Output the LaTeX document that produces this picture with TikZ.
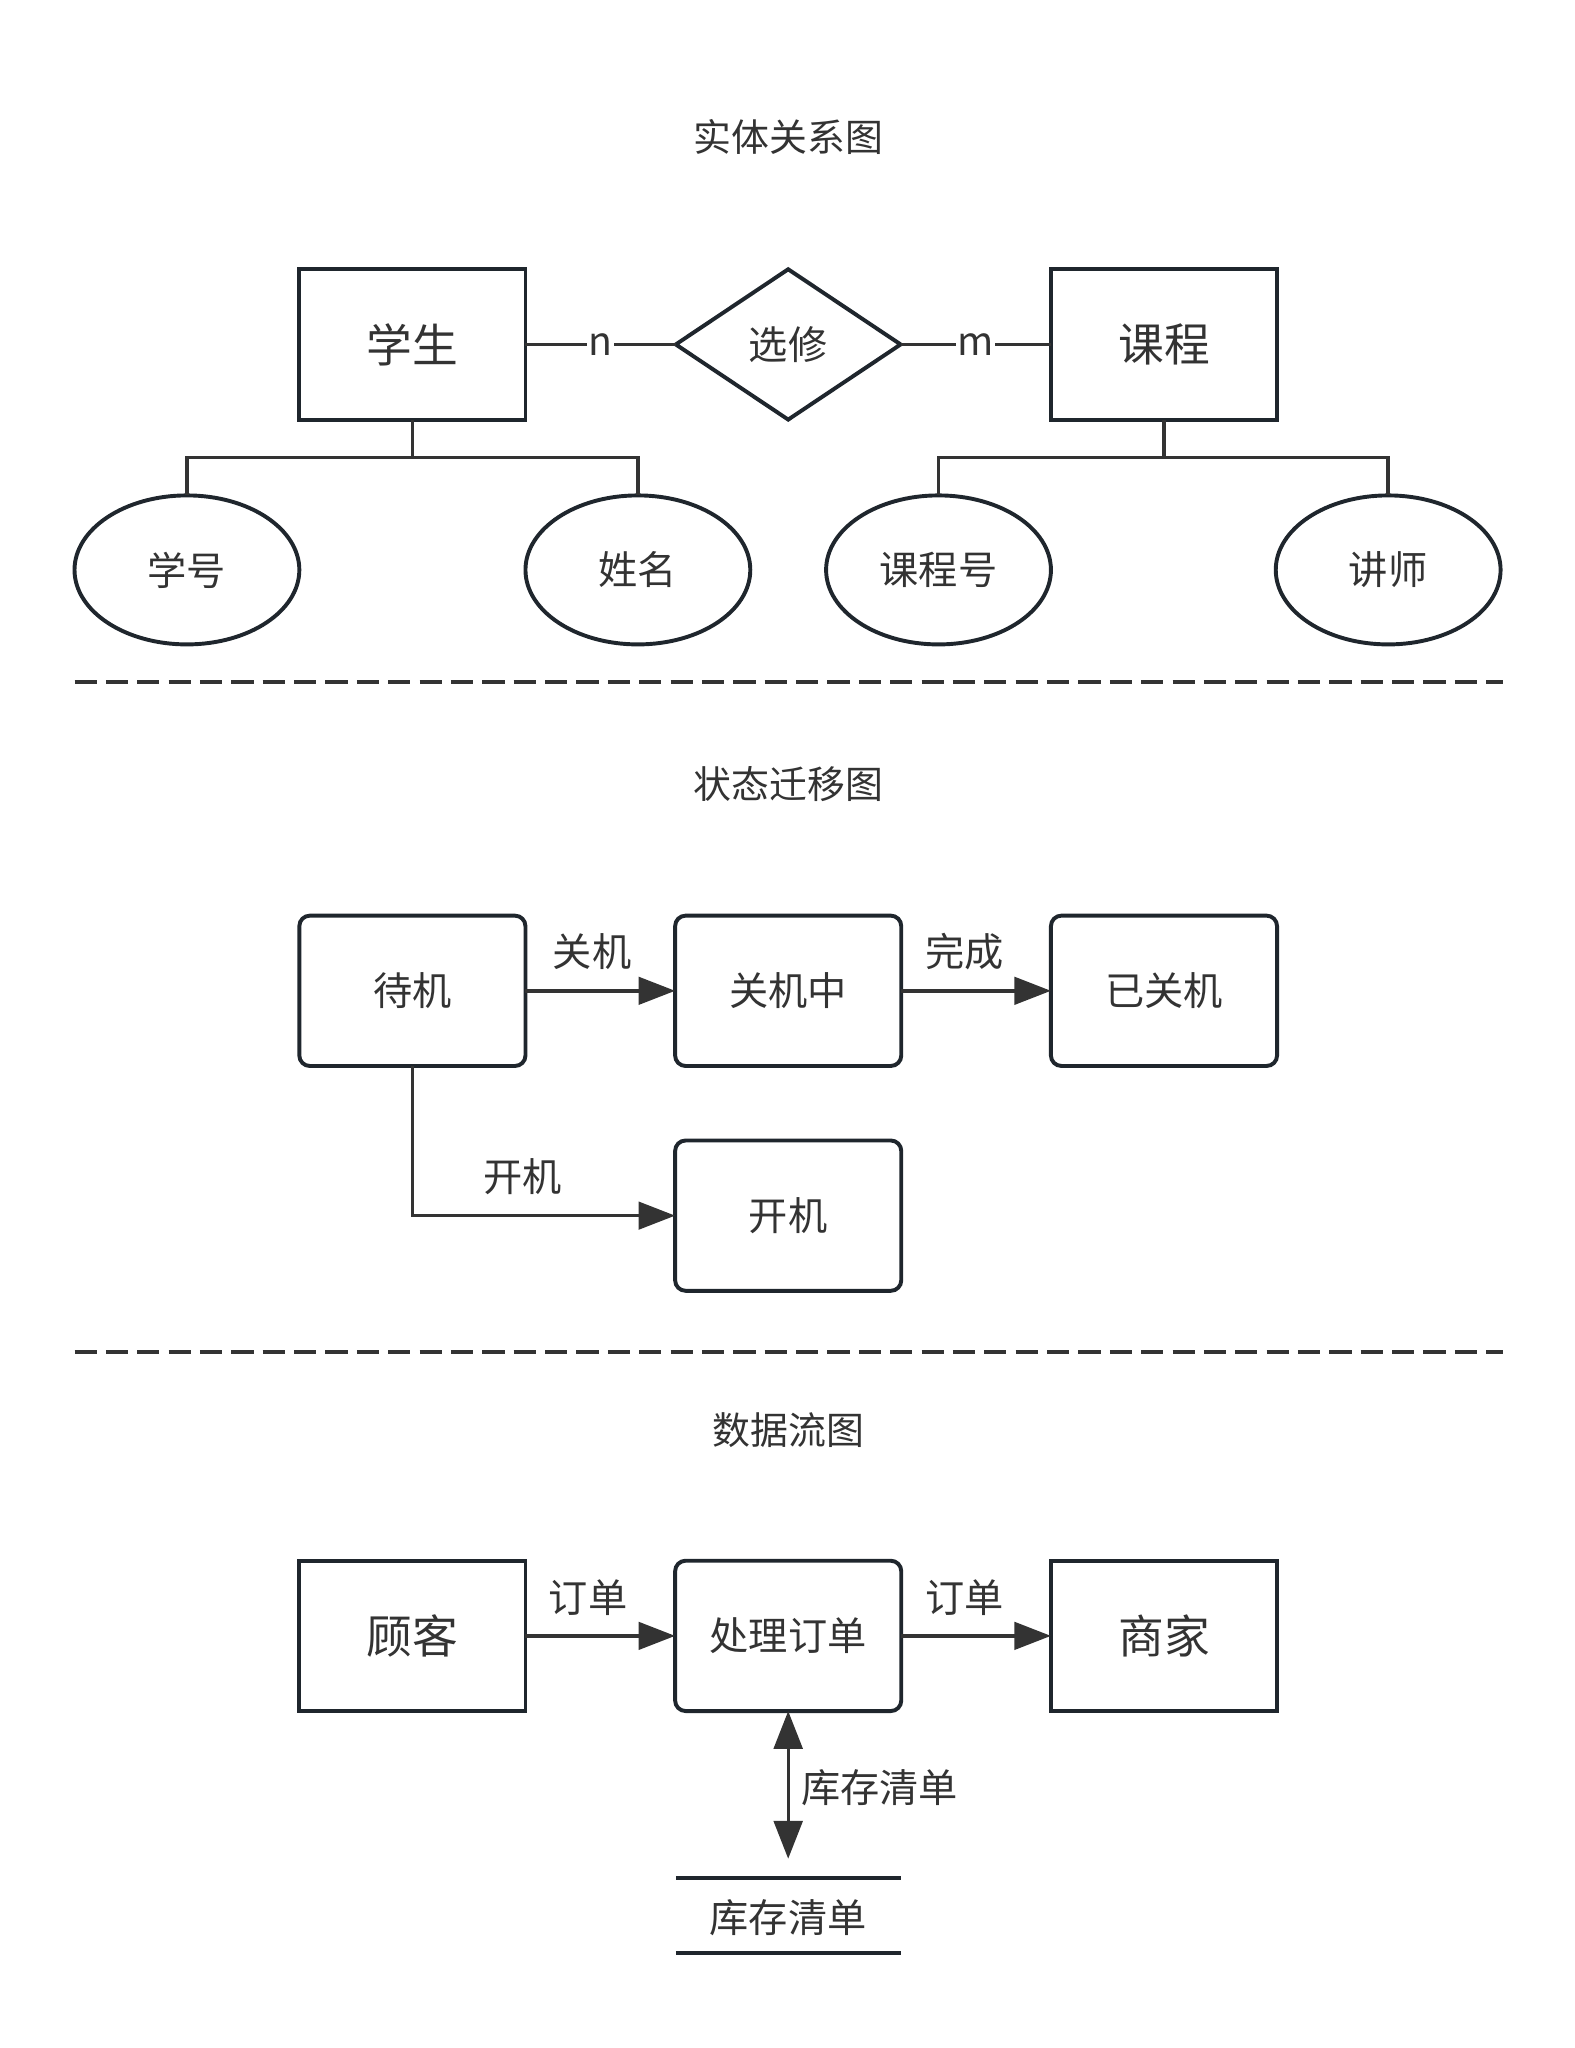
\documentclass[tikz,border=0pt]{standalone}
\usepackage{fontspec}
\setmainfont{Noto Sans CJK SC}
\usetikzlibrary{arrows.meta,shapes.geometric,calc}
\definecolor{boxc}{HTML}{1F262D}
\definecolor{linec}{HTML}{333333}
\definecolor{txtc}{HTML}{333333}
\tikzset{
  base/.style={inner sep=0pt, outer sep=0pt, text=txtc, font=\fontsize{30}{36}\selectfont},
  bigtxt/.style={font=\fontsize{35}{42}\selectfont},
  entity/.style={base, draw=boxc, line width=3pt, minimum width=173pt, minimum height=115pt},
  state/.style={entity, rounded corners=8pt},
  attr/.style={base, draw=boxc, line width=3pt, ellipse, minimum width=172pt, minimum height=114pt},
  rel/.style={base, draw=boxc, line width=3pt, diamond, minimum width=172pt, minimum height=115pt},
  conn/.style={draw=linec, line width=2.6pt},
  arr/.style={conn, -{Triangle[length=28pt,width=21pt]}},
  darr/.style={conn, {Triangle[length=29pt,width=22pt]}-{Triangle[length=29pt,width=22pt]}},
  lbl/.style={base, fill=white, inner sep=1pt},
  sep/.style={draw=linec, line width=3pt, dash pattern=on 17pt off 7pt},
  ttl/.style={base, font=\fontsize{29}{35}\selectfont},
}
\begin{document}
\begin{tikzpicture}[x=1pt,y=-1pt]
\useasboundingbox (0,0) rectangle (1204.8,1566.8);
% ---------- ER diagram ----------
\node[ttl] (t1) at (603,105) {实体关系图};
\node[entity,bigtxt] (xs) at (315.5,263.5) {学生};
\node[rel] (xx) at (603,263.5) {选修};
\node[entity,bigtxt] (kc) at (890.5,263.5) {课程};
\draw[conn] (xs.east) -- node[lbl] (ln) {n} (xx.west);
\draw[conn] (xx.east) -- node[lbl] (lm) {m} (kc.west);
\node[attr] (xh) at (143,436) {学号};
\node[attr] (xm) at (488,436) {姓名};
\node[attr] (kch) at (718,436) {课程号};
\node[attr] (js) at (1062,436) {讲师};
\draw[conn] (xs.south) -- ++(0,29) coordinate (j1);
\draw[conn] (xh.north) |- (j1) -| (xm.north);
\draw[conn] (kc.south) -- ++(0,29) coordinate (j2);
\draw[conn] (kch.north) |- (j2) -| (js.north);
\coordinate (d1a) at (57,522);
\coordinate (d1b) at (1150,522);
\draw[sep] (d1a) -- (d1b);
% ---------- State diagram ----------
\node[ttl] (t2) at (603,600) {状态迁移图};
\node[state] (dj) at (315.5,758) {待机};
\node[state] (gjz) at (603,758) {关机中};
\node[state] (ygj) at (890.5,758) {已关机};
\node[state] (kj) at (603,930) {开机};
\draw[arr] (dj.east) -- (gjz.west);
\node[base] (lgj) at (453,728) {关机};
\draw[arr] (gjz.east) -- (ygj.west);
\node[base] (lwc) at (738,728) {完成};
\draw[arr] (dj.south) |- (kj.west);
\node[base] (lkj) at (400,900) {开机};
\coordinate (d2a) at (57,1034);
\coordinate (d2b) at (1150,1034);
\draw[sep] (d2a) -- (d2b);
% ---------- Data flow diagram ----------
\node[ttl] (t3) at (603,1094) {数据流图};
\node[entity,bigtxt] (gk) at (315.5,1251.5) {顾客};
\node[state] (cl) at (603,1251.5) {处理订单};
\node[entity,bigtxt] (sj) at (890.5,1251.5) {商家};
\draw[arr] (gk.east) -- (cl.west);
\node[base] (ld1) at (450,1222) {订单};
\draw[arr] (cl.east) -- (sj.west);
\node[base] (ld2) at (738,1222) {订单};
\coordinate (ds) at (603,1422);
\draw[darr] (cl.south) -- (ds);
\node[base, anchor=west] (lkc) at (613,1368) {库存清单};
\coordinate (s1a) at (517,1437);
\coordinate (s1b) at (689,1437);
\coordinate (s2a) at (517,1494);
\coordinate (s2b) at (689,1494);
\draw[draw=boxc, line width=3pt] (s1a) -- (s1b);
\draw[draw=boxc, line width=3pt] (s2a) -- (s2b);
\node[base] (kcqd) at (603,1467) {库存清单};
\end{tikzpicture}
\end{document}
